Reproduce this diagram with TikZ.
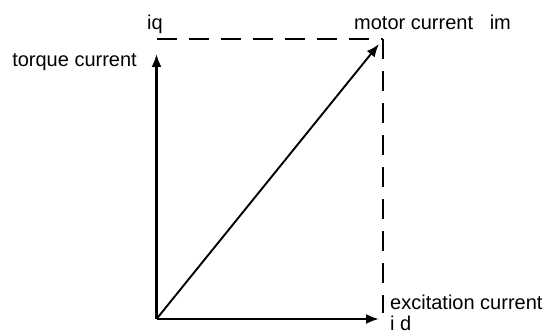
\documentclass[tikz,border=0pt]{standalone}
\usepackage{fontspec}
\setmainfont{Liberation Sans}
\usetikzlibrary{arrows.meta}
\begin{document}
\begin{tikzpicture}[x=1pt,y=1pt,font=\fontsize{20}{24}\selectfont]
    \useasboundingbox (0,0) rectangle (544,334);
    \coordinate (O) at (156.5,15);
    \coordinate (Q) at (156.5,280);
    \coordinate (D) at (379,15);
    \coordinate (M) at (379,290);
    \coordinate (T) at (157,295);
    \coordinate (C) at (383,295);
    \coordinate (E) at (383,21);
    \node[anchor=base] (iq) at (155,304) {iq};
    \node[anchor=base east,inner sep=0] (tq) at (137,267) {torque current};
    \node[anchor=base west,inner sep=0] (im) at (354,304) {motor current\ \ \ im};
    \node[anchor=base west,inner sep=0] (ex) at (390,24) {excitation current};
    \node[anchor=base west,inner sep=0] (id) at (390,3) {i d};
    \begin{scope}[-{Latex[length=13pt,width=10pt]},line width=2.2pt]
      \draw (O) -- (Q);
      \draw (O) -- (D);
      \draw[line width=1.9pt] (O) -- (M);
    \end{scope}
    \begin{scope}[line width=1.6pt,dash pattern=on 20pt off 12pt]
      \draw (T) -- (C);
      \draw (C) -- (E);
    \end{scope}
  \end{tikzpicture}
\end{document}
